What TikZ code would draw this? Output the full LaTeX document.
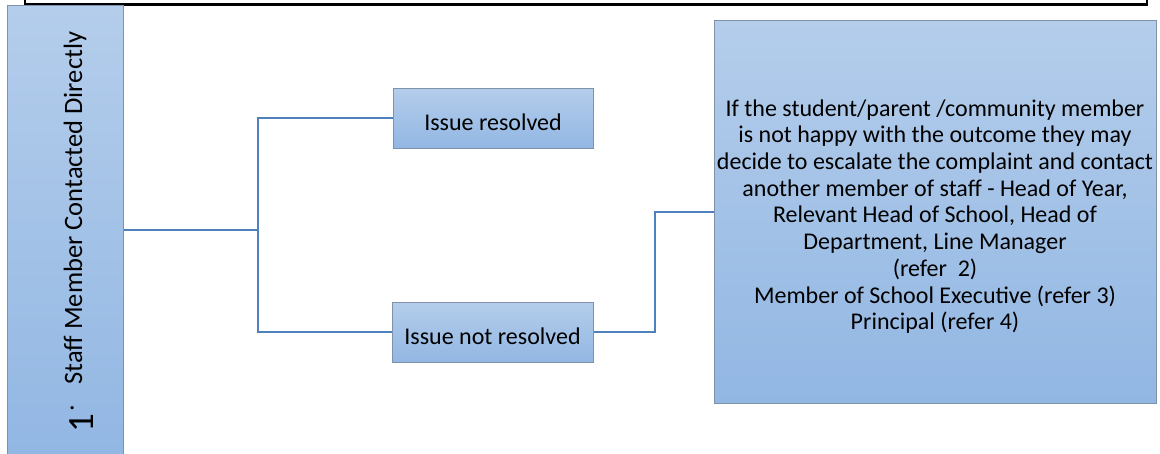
\documentclass[tikz,border=0pt]{standalone}
\usepackage{fontspec}
\setmainfont{Carlito}
\definecolor{boxtop}{RGB}{180,205,235}
\definecolor{boxbot}{RGB}{146,183,227}
\definecolor{boxline}{RGB}{128,146,170}
\definecolor{conn}{RGB}{79,129,189}
\tikzset{
  flowbox/.style={draw=boxline, line width=1pt, top color=boxtop, bottom color=boxbot,
    rectangle, inner sep=0pt},
  boxtext/.style={inner sep=0pt, align=center, font=\fontsize{24}{26.7}\selectfont},
  connector/.style={draw=conn, line width=2pt}
}
\begin{document}
\begin{tikzpicture}[x=1pt,y=1pt]
\useasboundingbox (0,0) rectangle (1160,-453);
\begin{scope}
\clip (0,0) rectangle (1160,-453);
\fill[white] (0,0) rectangle (1160,-453);
% top frame
\draw[black, line width=2.2pt] (25,20) rectangle (1147,-4.5);
% left box
\node[flowbox, minimum width=116pt, minimum height=450pt] (left) at (65,-230) {};
\end{scope}
\node[inner sep=0pt, rotate=90, anchor=base west] (lefttext) at (82,-433)
  {\fontsize{26.5}{30}\selectfont\raisebox{-11pt}{\fontsize{37}{40}\selectfont 1}\hspace{3pt}\raisebox{8.5pt}{.}\hspace{20pt}Staff Member Contacted Directly};
\node[flowbox, minimum width=200pt, minimum height=60pt] (res) at (493,-118) {};
\node[boxtext] (restext) at ([yshift=-4pt]res.center) {Issue resolved};
\node[flowbox, minimum width=201pt, minimum height=60pt] (nres) at (492.5,-332) {};
\node[boxtext] (nrestext) at ([yshift=-4pt]nres.center) {Issue not resolved};
\node[flowbox, minimum width=442pt, minimum height=383pt] (big) at (935,-211.5) {};
\node[boxtext] (bigtext) at ([yshift=-5pt]big.center)
  {If the student/parent /community member\\
   is not happy with the outcome they may\\
   decide to escalate the complaint and contact\\
   another member of staff - Head of Year,\\
   Relevant Head of School, Head of\\
   Department, Line Manager\\
   (refer\ \ 2)\\
   Member of School Executive (refer 3)\\
   Principal (refer 4)};
\coordinate (j1) at (258,-230);
\coordinate (j2) at (655,-332);
\draw[connector] (left.east |- j1) -- (j1);
\draw[connector] (res.west) -| (j1);
\draw[connector] (nres.west) -| (j1);
\draw[connector] (nres.east) -- (j2) |- (big.west);
\end{tikzpicture}
\end{document}
